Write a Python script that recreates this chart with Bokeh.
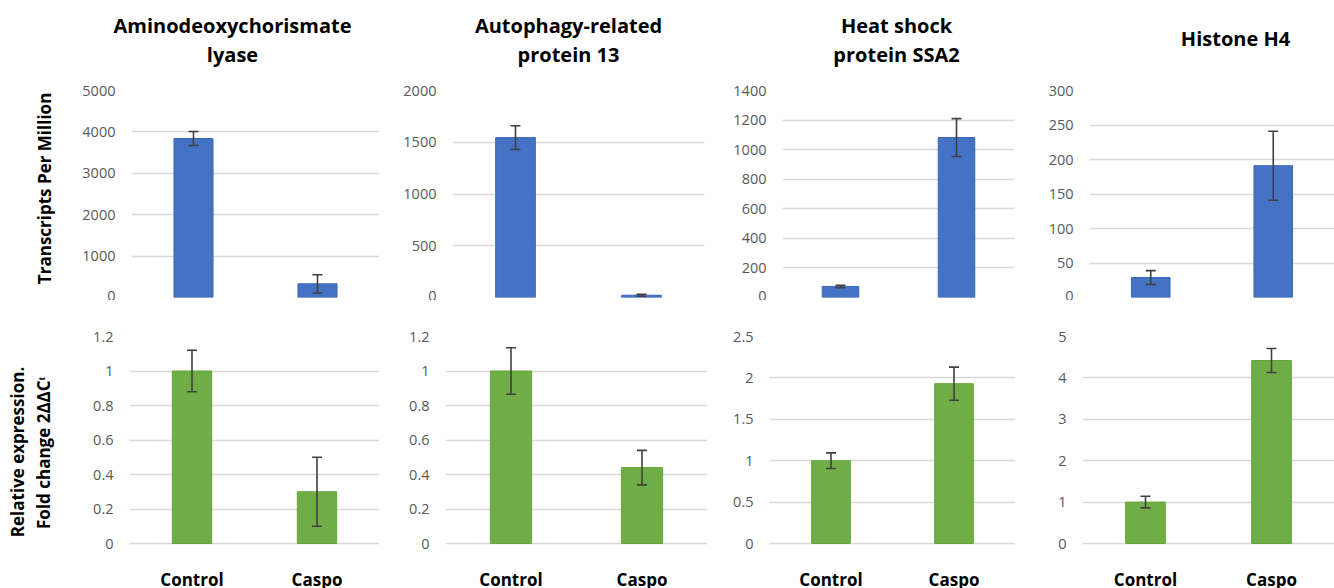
import math
from bokeh.plotting import figure
from bokeh.layouts import column, row
from bokeh.models import (ColumnDataSource, Whisker, TeeHead, FixedTicker,
                          NumeralTickFormatter, FactorRange, Range1d)
from bokeh.core.properties import value
from bokeh.embed import file_html
from bokeh.resources import INLINE

# ---------------- data ----------------
categories = ["Control", "Caspo"]
title_line1 = ["Aminodeoxychorismate", "Autophagy-related", "Heat shock", "Histone H4"]
title_line2 = ["lyase", "protein 13", "protein SSA2", ""]

tpm_control = [3840, 1545, 75, 29]
tpm_caspo = [330, 22, 1082, 191]
tpm_control_err = [170, 115, 8, 10]
tpm_caspo_err = [220, 10, 128, 50]
tpm_ymax = [5000, 2000, 1400, 300]
tpm_ticks = [
    [0, 1000, 2000, 3000, 4000, 5000],
    [0, 500, 1000, 1500, 2000],
    [0, 200, 400, 600, 800, 1000, 1200, 1400],
    [0, 50, 100, 150, 200, 250, 300],
]

fc_control = [1.0, 1.0, 1.0, 1.0]
fc_caspo = [0.30, 0.44, 1.93, 4.42]
fc_control_err = [0.12, 0.135, 0.095, 0.14]
fc_caspo_err = [0.20, 0.10, 0.20, 0.29]
fc_ymax = [1.2, 1.2, 2.5, 5]
fc_ticks = [
    [0, 0.2, 0.4, 0.6, 0.8, 1, 1.2],
    [0, 0.2, 0.4, 0.6, 0.8, 1, 1.2],
    [0, 0.5, 1, 1.5, 2, 2.5],
    [0, 1, 2, 3, 4, 5],
]

top_ylabel = ["Transcripts Per Million"]
bottom_ylabel = ["Relative expression.", "Fold change 2\u0394\u0394C\u1d57"]

# ---------------- layout / style ----------------
FONT = "Open Sans"
BLUE, BLUE_EDGE = "#4472C4", "#3A67B9"
GREEN, GREEN_EDGE = "#70AD47", "#64A83A"
ERR = "#404040"
GRID = "#D9D9D9"

STRIP_W = 70
TITLE_H = 78
TOP_H = 300 - TITLE_H
BOT_H = 288
FRAME_H = 207
BOT_EXTRA = 45  # pixels below the zero line in the bottom row
# (width, left, right) per column
top_geom = [(400 - STRIP_W, 131 - STRIP_W, 21), (330, 52, 26), (315, 35, 31), (289, 37, 0)]
bot_geom = [(400 - STRIP_W, 129 - STRIP_W, 21), (330, 45, 23), (315, 32, 30), (289, 37, 0)]
title_w = [400, 330, 315, 289]
title_cx = [232, 568, 896, 1235]
col_x0 = [0, 400, 730, 1045]


def blank(w, h):
    f = figure(width=w, height=h, x_range=Range1d(0, w), y_range=Range1d(h, 0),
               output_backend="svg", toolbar_location=None, tools="")
    f.min_border = 0
    f.axis.visible = False
    f.grid.visible = False
    f.outline_line_color = None
    f.background_fill_color = "white"
    f.border_fill_color = "white"
    return f


def style_common(p, ticks, fmt):
    p.min_border = 0
    p.outline_line_color = None
    p.background_fill_color = "white"
    p.border_fill_color = "white"
    p.xgrid.grid_line_color = None
    p.ygrid.grid_line_color = GRID
    p.ygrid.grid_line_width = 1.5
    p.xaxis.visible = False
    p.yaxis.ticker = FixedTicker(ticks=ticks)
    p.yaxis.formatter = NumeralTickFormatter(format=fmt)
    p.yaxis.axis_line_color = None
    p.yaxis.major_tick_line_color = None
    p.yaxis.minor_tick_line_color = None
    p.yaxis.major_tick_out = 0
    p.yaxis.major_tick_in = 0
    p.yaxis.minor_tick_out = 0
    p.yaxis.major_label_standoff = 16
    p.yaxis.major_label_text_font = FONT
    p.yaxis.major_label_text_font_size = "14.5px"
    p.yaxis.major_label_text_color = "#595959"


def add_bars(p, ctrl, casp, ectrl, ecasp, fill, edge, with_labels=False):
    src = ColumnDataSource(dict(
        x=categories,
        top=[ctrl, casp],
        upper=[ctrl + ectrl, casp + ecasp],
        lower=[ctrl - ectrl, casp - ecasp],
        zero=[0, 0],
    ))
    p.vbar(x="x", top="top", width=0.315, source=src, fill_color=fill,
           line_color=edge, line_width=1)
    w = Whisker(base="x", upper="upper", lower="lower", source=src, level="overlay",
                line_color=ERR, line_width=1.6,
                upper_head=TeeHead(size=10, line_color=ERR, line_width=1.6),
                lower_head=TeeHead(size=10, line_color=ERR, line_width=1.6))
    p.add_layout(w)
    if with_labels:
        p.text(x="x", y="zero", text="x", source=src, y_offset=24,
               text_align="center", text_baseline="top", text_font=value(FONT),
               text_font_style="bold", text_font_size="17px", text_color="#000000")


title_figs, top_figs, bot_figs = [], [], []

# y-axis title strips (first column)
ts = blank(STRIP_W, TOP_H)
ts.text(x=[44], y=[183 - TITLE_H], text=top_ylabel, angle=math.pi / 2,
        text_align="center", text_baseline="middle", text_font=value(FONT),
        text_font_style="bold", text_font_size="17px", text_color="#000000")
top_figs.append(ts)
bs = blank(STRIP_W, BOT_H)
bs.text(x=[17, 43], y=[432 - 300, 433 - 300], text=bottom_ylabel, angle=math.pi / 2,
        text_align="center", text_baseline="middle", text_font=value(FONT),
        text_font_style="bold", text_font_size="17px", text_color="#000000")
bot_figs.append(bs)

for i in range(4):
    # ---- title strip ----
    t = blank(title_w[i], TITLE_H)
    if title_line2[i]:
        texts, ys = [title_line1[i], title_line2[i]], [25, 54]
    else:
        texts, ys = [title_line1[i]], [38]
    cx = title_cx[i] - col_x0[i]
    t.text(x=[cx] * len(texts), y=ys, text=texts, text_align="center",
           text_baseline="middle", text_font=value(FONT), text_font_style="bold",
           text_font_size="20px", text_color="#000000")
    title_figs.append(t)

    # ---- top (TPM) ----
    w, l, r = top_geom[i]
    p = figure(width=w, height=TOP_H, x_range=FactorRange(*categories),
               y_range=Range1d(0, tpm_ymax[i]), output_backend="svg",
               toolbar_location=None, tools="")
    style_common(p, tpm_ticks[i], "0")
    p.min_border_left, p.min_border_right = l, r
    p.min_border_top, p.min_border_bottom = 90 - TITLE_H, 3
    add_bars(p, tpm_control[i], tpm_caspo[i], tpm_control_err[i], tpm_caspo_err[i],
             BLUE, BLUE_EDGE)
    top_figs.append(p)

    # ---- bottom (fold change) ----
    w, l, r = bot_geom[i]
    ymin = -fc_ymax[i] * BOT_EXTRA / FRAME_H
    q = figure(width=w, height=BOT_H, x_range=FactorRange(*categories),
               y_range=Range1d(ymin, fc_ymax[i]), output_backend="svg",
               toolbar_location=None, tools="")
    style_common(q, fc_ticks[i], "0.[0]")
    q.min_border_left, q.min_border_right = l, r
    q.min_border_top, q.min_border_bottom = 36, 0
    add_bars(q, fc_control[i], fc_caspo[i], fc_control_err[i], fc_caspo_err[i],
             GREEN, GREEN_EDGE, with_labels=True)
    bot_figs.append(q)

layout = column(row(*title_figs, spacing=0), row(*top_figs, spacing=0),
                row(*bot_figs, spacing=0), spacing=0)

open("out.html", "w").write(file_html(layout, INLINE))
